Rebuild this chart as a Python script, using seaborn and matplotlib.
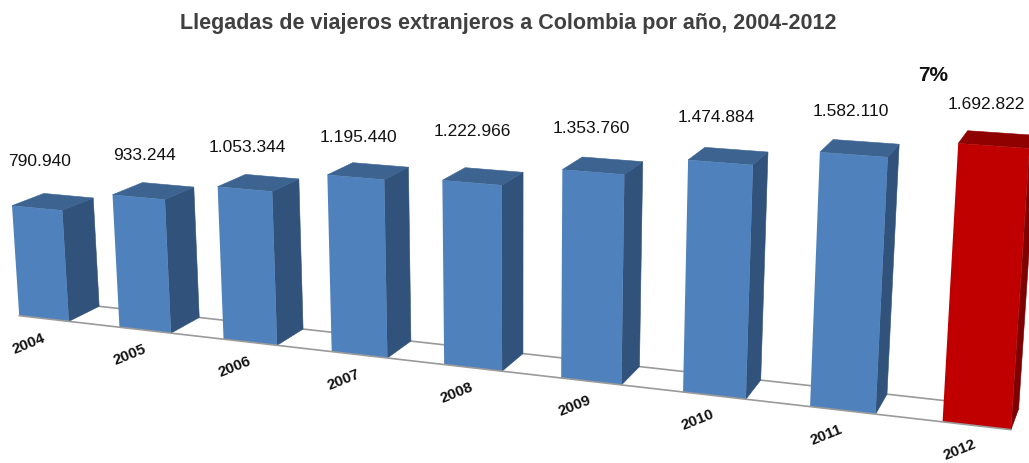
import numpy as np
import pandas as pd
import matplotlib
matplotlib.use('Agg')
import matplotlib.pyplot as plt
import seaborn as sns
from matplotlib.patches import Polygon
from matplotlib.transforms import Transform, IdentityTransform

# datos
years = ['2004', '2005', '2006', '2007', '2008', '2009', '2010', '2011', '2012']
arrivals = [790940, 933244, 1053344, 1195440, 1222966, 1353760, 1474884, 1582110, 1692822]
value_labels = ['790.940', '933.244', '1.053.344', '1.195.440', '1.222.966',
                '1.353.760', '1.474.884', '1.582.110', '1.692.822']

W, H = 1029, 464
bar_width = 0.5
front_colors = ['#4F81BD'] * 8 + ['#C00000']
side_colors = ['#31527B'] * 8 + ['#7E0000']
top_colors = ['#3D6491'] * 8 + ['#8F0000']

# centro en pixeles de cada etiqueta de valor
label_x = [40, 144, 247, 358, 472, 591, 716, 851, 986]
label_y = [161, 155, 148, 138, 132, 129, 117, 112, 105]

# camara de la perspectiva: (categoria, millones, profundidad) -> pixel
CAMERA = np.array([[98.50847, -9.33962, 32.70763, 43.91929],
                   [5.50394, -143.48507, -7.09174, 319.52214],
                   [-0.01851, -0.01801, 0.02576, 1.0]])


def project(x, y, z=0.0):
    x, y, z = np.broadcast_arrays(x, y, z)
    world = np.column_stack([x, np.asarray(y) / 1e6, z, np.ones(x.size)])
    p = world @ CAMERA.T
    return np.column_stack([p[:, 0] / p[:, 2], H - p[:, 1] / p[:, 2]])


class Perspective(Transform):
    input_dims = 2
    output_dims = 2
    is_separable = False

    def transform_non_affine(self, values):
        values = np.asarray(values, dtype=float)
        return project(values[:, 0], values[:, 1])


sns.set_theme(style='white')
plt.rcParams['font.family'] = ['Liberation Sans', 'DejaVu Sans']

fig = plt.figure(figsize=(W / 100, H / 100), dpi=100)
ax = fig.add_axes([0, 0, 1, 1])
df = pd.DataFrame({'year': years, 'arrivals': arrivals})
sns.barplot(data=df, x='year', y='arrivals', hue='year', palette=front_colors,
            width=bar_width, saturation=1, legend=False, linewidth=0, ax=ax)
ax.axis('off')

# caras laterales y superiores a partir de las barras de seaborn
persp = Perspective()
for bar, side, top in zip(list(ax.patches), side_colors, top_colors):
    x0 = bar.get_x()
    x1 = x0 + bar.get_width()
    h = bar.get_height()
    bar.set_transform(persp)
    bar.set_clip_on(False)
    bar.set_zorder(3)
    side_face = project([x1, x1, x1, x1], [0, h, h, 0], [0, 0, 1, 1])
    top_face = project([x0, x1, x1, x0], [h, h, h, h], [0, 0, 1, 1])
    for verts, color in ((side_face, side), (top_face, top)):
        ax.add_patch(Polygon(verts, closed=True, facecolor=color, edgecolor=color, linewidth=0.4,
                             transform=IdentityTransform(), clip_on=False, zorder=2))

# lineas del piso
n = len(years)
xs = [-bar_width / 2, n - 1 + bar_width / 2]
front = project(xs, [0, 0], 0)
back = project(xs, [0, 0], 1)
ax.plot(front[:, 0], front[:, 1], color='#9A9A9A', lw=1.2, transform=IdentityTransform(), clip_on=False, zorder=4)
ax.plot(back[:, 0], back[:, 1], color='#9A9A9A', lw=1.2, transform=IdentityTransform(), clip_on=False, zorder=1)

# textos
fig.text(508 / W, 1 - 24 / H, 'Llegadas de viajeros extranjeros a Colombia por año, 2004-2012',
         ha='center', va='center', fontsize=15.5, fontweight='bold', color='#404040')
for t, x, y in zip(value_labels, label_x, label_y):
    fig.text(x / W, 1 - y / H, t, ha='center', va='center', fontsize=12.5, color='#111111')
fig.text(933 / W, 1 - 76 / H, '7%', ha='center', va='center', fontsize=15, fontweight='bold', color='#111111')

tick_pos = project(np.arange(n) - bar_width / 2, np.zeros(n), 0)
for i, (t, (x, y)) in enumerate(zip(years, tick_pos)):
    fig.text((x + 9.5 + 0.9 * i) / W, (y - 27) / H, t, ha='center', va='center', rotation=22,
             fontsize=11, fontweight='bold', color='#111111')

fig.savefig('out.png', dpi=100)
